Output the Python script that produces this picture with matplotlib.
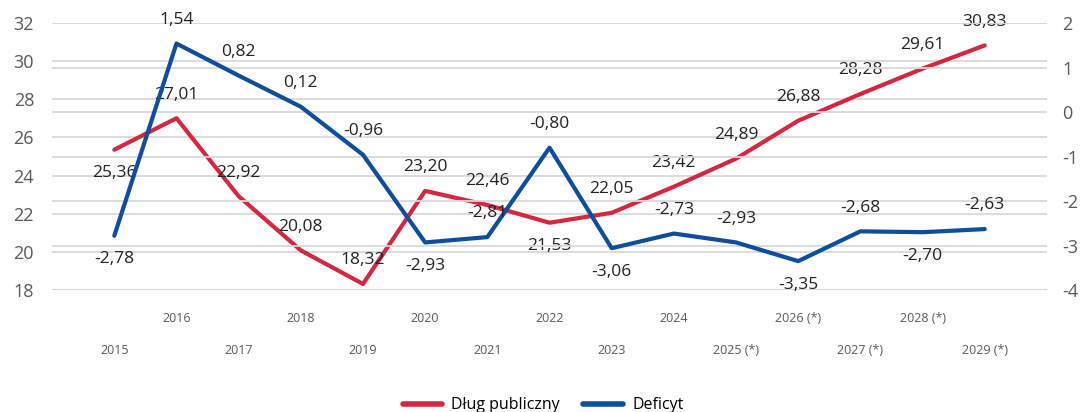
import matplotlib
matplotlib.use("Agg")
import matplotlib.pyplot as plt
import numpy as np
from matplotlib.ticker import FixedLocator

plt.rcParams["font.family"] = ["Open Sans", "DejaVu Sans"]
plt.rcParams["axes.unicode_minus"] = False

years = ["2015", "2016", "2017", "2018", "2019", "2020", "2021", "2022",
         "2023", "2024", "2025 (*)", "2026 (*)", "2027 (*)", "2028 (*)", "2029 (*)"]
dlug = [25.36, 27.01, 22.92, 20.08, 18.32, 23.20, 22.46, 21.53,
        22.05, 23.42, 24.89, 26.88, 28.28, 29.61, 30.83]
deficyt = [-2.78, 1.54, 0.82, 0.12, -0.96, -2.93, -2.81, -0.80,
           -3.06, -2.73, -2.93, -3.35, -2.68, -2.70, -2.63]
# +1 = label above the point, -1 = below
dlug_side = [-1, 1, 1, 1, 1, 1, 1, -1, 1, 1, 1, 1, 1, 1, 1]
def_side = [-1, 1, 1, 1, 1, -1, 1, 1, -1, 1, 1, -1, 1, -1, 1]

RED = "#D7263F"
BLUE = "#0D4EA0"
GRID = "#D9D9D9"
TICK = "#595959"

fig = plt.figure(figsize=(10.86, 4.12), dpi=100)
ax = fig.add_axes([0.048, 0.296, 0.916, 0.648])
ax2 = ax.twinx()

x = np.arange(len(years))
ax.set_xlim(-1, len(years))
ax.set_ylim(18, 32)
ax2.set_ylim(-4, 2)
ax.set_yticks(np.arange(18, 33, 2))
ax2.set_yticks(np.arange(-4, 3, 1))

for a in (ax, ax2):
    for s in a.spines.values():
        s.set_visible(False)
    a.grid(axis="y", color=GRID, linewidth=1.3)
    a.set_axisbelow(True)
ax.tick_params(axis="y", length=0, labelsize=13, labelcolor=TICK, pad=13)
ax2.tick_params(axis="y", length=0, labelsize=13, labelcolor=TICK, pad=11)

# staggered year labels: odd positions upper row, even positions lower row
ax.xaxis.set_major_locator(FixedLocator(x[1::2]))
ax.set_xticklabels(years[1::2])
ax.xaxis.set_minor_locator(FixedLocator(x[0::2]))
ax.set_xticklabels(years[0::2], minor=True)
ax.tick_params(axis="x", which="major", length=0, labelsize=9, labelcolor=TICK, pad=16)
ax.tick_params(axis="x", which="minor", length=0, labelsize=9, labelcolor=TICK, pad=39)

l1, = ax.plot(x, dlug, color=RED, linewidth=3, solid_joinstyle="round",
              solid_capstyle="round", zorder=3, label="Dług publiczny")
l2, = ax2.plot(x, deficyt, color=BLUE, linewidth=3, solid_joinstyle="round",
               solid_capstyle="round", zorder=3, label="Deficyt")

def fmt(v):
    return f"{v:.2f}".replace(".", ",")

for xi, v, s in zip(x, dlug, dlug_side):
    ax.annotate(fmt(v), (xi, v), xytext=(0, 17 * s), textcoords="offset points",
                ha="center", va="center", fontsize=12.5, color="#222222", zorder=5)
for xi, v, s in zip(x, deficyt, def_side):
    ax2.annotate(fmt(v), (xi, v), xytext=(0, 17 * s), textcoords="offset points",
                 ha="center", va="center", fontsize=12.5, color="#222222", zorder=5)

fig.legend(handles=[l1, l2], loc="center", bbox_to_anchor=(0.5, 0.016),
           ncol=2, frameon=False, fontsize=11.5, handlelength=2.5,
           handletextpad=0.56, columnspacing=1.45)
for h in fig.legends[0].get_lines():
    h.set_linewidth(4)

fig.savefig("out.png", dpi=100)
